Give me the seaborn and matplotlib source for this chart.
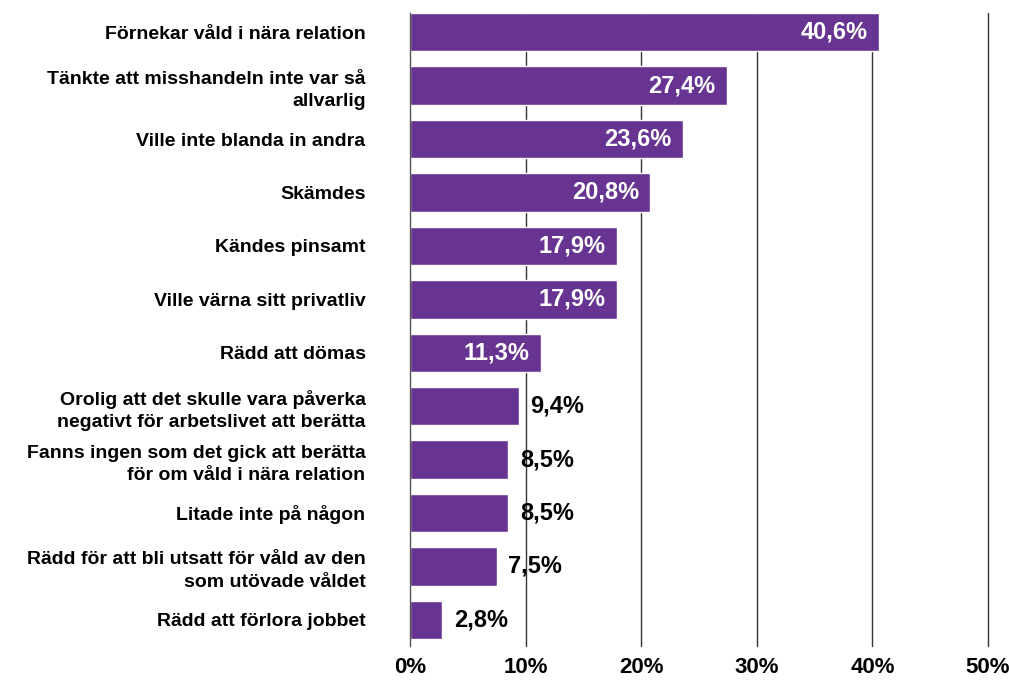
import matplotlib
matplotlib.use("Agg")
import matplotlib.pyplot as plt
import seaborn as sns
import pandas as pd

# data
categories = [
    "Förnekar våld i nära relation",
    "Tänkte att misshandeln inte var så\nallvarlig",
    "Ville inte blanda in andra",
    "Skämdes",
    "Kändes pinsamt",
    "Ville värna sitt privatliv",
    "Rädd att dömas",
    "Orolig att det skulle vara påverka\nnegativt för arbetslivet att berätta",
    "Fanns ingen som det gick att berätta\nför om våld i nära relation",
    "Litade inte på någon",
    "Rädd för att bli utsatt för våld av den\nsom utövade våldet",
    "Rädd att förlora jobbet",
]
values = [40.6, 27.4, 23.6, 20.8, 17.9, 17.9, 11.3, 9.4, 8.5, 8.5, 7.5, 2.8]
x_ticks = [0, 10, 20, 30, 40, 50]

df = pd.DataFrame({"kategori": categories, "andel": values})

sns.set_style("white")
plt.rcParams["font.family"] = ["Liberation Sans", "DejaVu Sans"]

fig = plt.figure(figsize=(10.09, 6.84), dpi=100)
ax = fig.add_axes([410 / 1009, 1 - 646 / 684, 578 / 1009, 633 / 684])

sns.barplot(data=df, x="andel", y="kategori", color="#673591", saturation=1,
            width=0.72, ax=ax, zorder=3)

ax.set_xlim(0, 50)
ax.set_ylim(11.49, -0.36)
ax.set_xticks(x_ticks)
ax.set_xticklabels([f"{t}%" for t in x_ticks], fontsize=16, fontweight="bold",
                   color="black")
ax.tick_params(axis="x", length=0, pad=8)
ax.tick_params(axis="y", length=0, pad=32)
for lbl in ax.get_yticklabels():
    lbl.set_fontsize(14)
    lbl.set_fontweight("bold")
    lbl.set_color("black")
    lbl.set_horizontalalignment("right")
    lbl.set_multialignment("right")
    lbl.set_linespacing(1.4)
ax.set_xlabel("")
ax.set_ylabel("")

# vertical grid lines, drawn unclipped so the 50% line shows fully
for t in x_ticks[1:]:
    ax.axvline(t, color="#333333", linewidth=1, zorder=0, clip_on=False)
for s in ["top", "right", "bottom"]:
    ax.spines[s].set_visible(False)
ax.spines["left"].set_color("#555555")
ax.spines["left"].set_linewidth(1)
ax.spines["left"].set_zorder(5)

for i, v in enumerate(values):
    txt = f"{v:.1f}%".replace(".", ",")
    if v > 10:
        ax.text(v - 1.0, i, txt, color="white", ha="right", va="center",
                fontsize=17, fontweight="bold", zorder=4)
    else:
        ax.text(v + 1.0, i, txt, color="black", ha="left", va="center",
                fontsize=17, fontweight="bold", zorder=4)

fig.savefig("out.png", dpi=100)
